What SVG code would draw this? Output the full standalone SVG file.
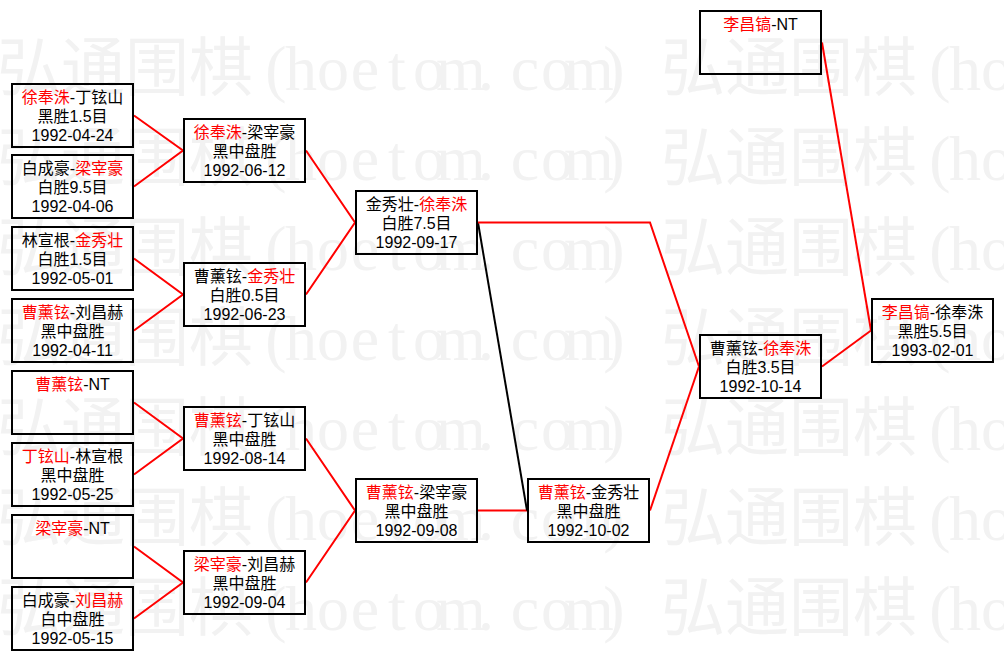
<svg xmlns="http://www.w3.org/2000/svg" width="1004" height="661" viewBox="0 0 1004 661">
<style>
.bg{fill:#ffffff}
.wm{font-family:"Liberation Serif","Noto Sans CJK SC",serif;font-size:64px;fill:#f2f2f2;text-anchor:middle}
.box{fill:none;stroke:#000;stroke-width:2}
.t{font-family:"Liberation Sans","Noto Sans CJK SC",sans-serif;font-size:16px;fill:#000;text-anchor:middle}
.r{fill:#ff0000}
.cr{fill:none;stroke:#ff0000;stroke-width:2}
.ck{fill:none;stroke:#000;stroke-width:2}
</style>
<defs>
<text id="wmrow" class="wm" x="29 93 157 221 276 301 333 365 397 429 461 486 525 557 589 614 693 757 821 885 940 965 997">弘通围棋(hoetom.com)弘通围棋(ho</text>
</defs>
<rect class="bg" x="0" y="0" width="1004" height="661"/>
<g id="watermark">
<use href="#wmrow" y="90"/>
<use href="#wmrow" y="180"/>
<use href="#wmrow" y="270"/>
<use href="#wmrow" y="360"/>
<use href="#wmrow" y="450"/>
<use href="#wmrow" y="540"/>
<use href="#wmrow" y="630"/>
</g>
<g id="connectors">
<polyline class="cr" points="134,115.5 183,150.5 134,186.5"/>
<polyline class="cr" points="134,258.5 183,294.5 134,330.5"/>
<polyline class="cr" points="134,402.5 183,438.5 134,474.5"/>
<polyline class="cr" points="134,546.5 183,582.5 134,618.5"/>
<polyline class="cr" points="306,150.5 355,222.5 306,294.5"/>
<polyline class="cr" points="306,438.5 355,510.5 306,582.5"/>
<line class="cr" x1="478" y1="510.5" x2="527" y2="510.5"/>
<line class="ck" x1="478" y1="222.5" x2="527" y2="510.5"/>
<polyline class="cr" points="478,222.5 650,222.5 699,366.5"/>
<line class="cr" x1="650" y1="510.5" x2="699" y2="366.5"/>
<line class="cr" x1="822" y1="366.5" x2="871" y2="330.5"/>
<line class="cr" x1="822" y1="42.5" x2="871" y2="330.5"/>
</g>
<g id="a1" transform="translate(12,84)"><rect class="box" width="121" height="63"/><text class="t" x="60.5" y="19"><tspan class="r">徐奉洙</tspan>-丁铉山</text><text class="t" x="60.5" y="38">黑胜1.5目</text><text class="t" x="60.5" y="57">1992-04-24</text></g>
<g id="a2" transform="translate(12,155)"><rect class="box" width="121" height="63"/><text class="t" x="60.5" y="19">白成豪-<tspan class="r">梁宰豪</tspan></text><text class="t" x="60.5" y="38">白胜9.5目</text><text class="t" x="60.5" y="57">1992-04-06</text></g>
<g id="a3" transform="translate(12,227)"><rect class="box" width="121" height="63"/><text class="t" x="60.5" y="19">林宣根-<tspan class="r">金秀壮</tspan></text><text class="t" x="60.5" y="38">白胜1.5目</text><text class="t" x="60.5" y="57">1992-05-01</text></g>
<g id="a4" transform="translate(12,299)"><rect class="box" width="121" height="63"/><text class="t" x="60.5" y="19"><tspan class="r">曹薰铉</tspan>-刘昌赫</text><text class="t" x="60.5" y="38">黑中盘胜</text><text class="t" x="60.5" y="57">1992-04-11</text></g>
<g id="a5" transform="translate(12,371)"><rect class="box" width="121" height="63"/><text class="t" x="60.5" y="19"><tspan class="r">曹薰铉</tspan>-NT</text></g>
<g id="a6" transform="translate(12,443)"><rect class="box" width="121" height="63"/><text class="t" x="60.5" y="19"><tspan class="r">丁铉山</tspan>-林宣根</text><text class="t" x="60.5" y="38">黑中盘胜</text><text class="t" x="60.5" y="57">1992-05-25</text></g>
<g id="a7" transform="translate(12,515)"><rect class="box" width="121" height="63"/><text class="t" x="60.5" y="19"><tspan class="r">梁宰豪</tspan>-NT</text></g>
<g id="a8" transform="translate(12,587)"><rect class="box" width="121" height="63"/><text class="t" x="60.5" y="19">白成豪-<tspan class="r">刘昌赫</tspan></text><text class="t" x="60.5" y="38">白中盘胜</text><text class="t" x="60.5" y="57">1992-05-15</text></g>
<g id="b1" transform="translate(184,119)"><rect class="box" width="121" height="63"/><text class="t" x="60.5" y="19"><tspan class="r">徐奉洙</tspan>-梁宰豪</text><text class="t" x="60.5" y="38">黑中盘胜</text><text class="t" x="60.5" y="57">1992-06-12</text></g>
<g id="b2" transform="translate(184,263)"><rect class="box" width="121" height="63"/><text class="t" x="60.5" y="19">曹薰铉-<tspan class="r">金秀壮</tspan></text><text class="t" x="60.5" y="38">白胜0.5目</text><text class="t" x="60.5" y="57">1992-06-23</text></g>
<g id="b3" transform="translate(184,407)"><rect class="box" width="121" height="63"/><text class="t" x="60.5" y="19"><tspan class="r">曹薰铉</tspan>-丁铉山</text><text class="t" x="60.5" y="38">黑中盘胜</text><text class="t" x="60.5" y="57">1992-08-14</text></g>
<g id="b4" transform="translate(184,551)"><rect class="box" width="121" height="63"/><text class="t" x="60.5" y="19"><tspan class="r">梁宰豪</tspan>-刘昌赫</text><text class="t" x="60.5" y="38">黑中盘胜</text><text class="t" x="60.5" y="57">1992-09-04</text></g>
<g id="c1" transform="translate(356,191)"><rect class="box" width="121" height="63"/><text class="t" x="60.5" y="19">金秀壮-<tspan class="r">徐奉洙</tspan></text><text class="t" x="60.5" y="38">白胜7.5目</text><text class="t" x="60.5" y="57">1992-09-17</text></g>
<g id="c2" transform="translate(356,479)"><rect class="box" width="121" height="63"/><text class="t" x="60.5" y="19"><tspan class="r">曹薰铉</tspan>-梁宰豪</text><text class="t" x="60.5" y="38">黑中盘胜</text><text class="t" x="60.5" y="57">1992-09-08</text></g>
<g id="d1" transform="translate(528,479)"><rect class="box" width="121" height="63"/><text class="t" x="60.5" y="19"><tspan class="r">曹薰铉</tspan>-金秀壮</text><text class="t" x="60.5" y="38">黑中盘胜</text><text class="t" x="60.5" y="57">1992-10-02</text></g>
<g id="e1" transform="translate(700,11)"><rect class="box" width="121" height="63"/><text class="t" x="60.5" y="19"><tspan class="r">李昌镐</tspan>-NT</text></g>
<g id="e2" transform="translate(700,335)"><rect class="box" width="121" height="63"/><text class="t" x="60.5" y="19">曹薰铉-<tspan class="r">徐奉洙</tspan></text><text class="t" x="60.5" y="38">白胜3.5目</text><text class="t" x="60.5" y="57">1992-10-14</text></g>
<g id="f" transform="translate(872,299)"><rect class="box" width="121" height="63"/><text class="t" x="60.5" y="19"><tspan class="r">李昌镐</tspan>-徐奉洙</text><text class="t" x="60.5" y="38">黑胜5.5目</text><text class="t" x="60.5" y="57">1993-02-01</text></g>
</svg>
